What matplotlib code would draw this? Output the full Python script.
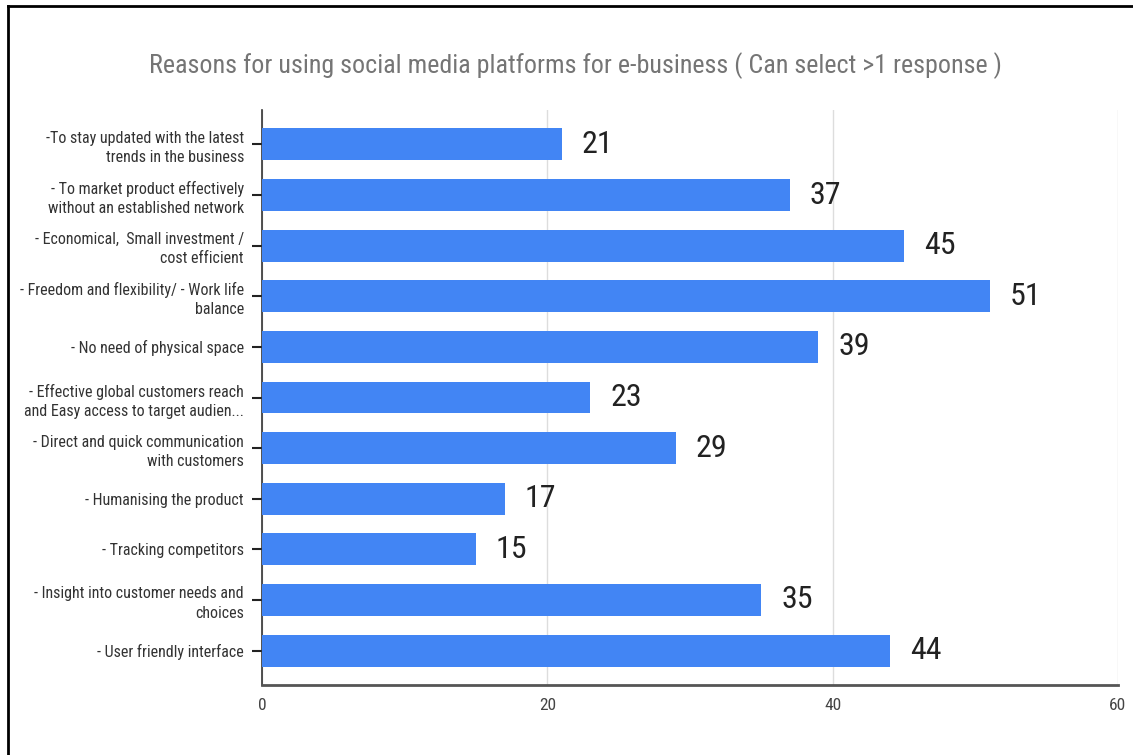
import matplotlib
matplotlib.use("Agg")
import matplotlib.pyplot as plt
from matplotlib import font_manager as fm
from matplotlib.lines import Line2D

reasons = [
    "-To stay updated with the latest\ntrends in the business",
    "- To market product effectively\nwithout an established network",
    "- Economical,  Small investment /\ncost efficient",
    "- Freedom and flexibility/ - Work life\nbalance",
    "- No need of physical space",
    "- Effective global customers reach\nand Easy access to target audien...",
    "- Direct and quick communication\nwith customers",
    "- Humanising the product",
    "- Tracking competitors",
    "- Insight into customer needs and\nchoices",
    "- User friendly interface",
]
counts = [21, 37, 45, 51, 39, 23, 29, 17, 15, 35, 44]
x_ticks = [0, 20, 40, 60]

bar_color = "#4285F4"

# pick a narrow face if one is around, otherwise plain Liberation Sans
names = {f.name for f in fm.fontManager.ttflist}
if "Liberation Sans Narrow" in names:
    narrow = dict(family="Liberation Sans Narrow")
    scale = 1.0
elif "Roboto Condensed" in names:
    narrow = dict(family="Roboto Condensed")
    scale = 1.0
else:
    narrow = dict(family="Liberation Sans")
    scale = 0.8

fig = plt.figure(figsize=(11.33, 7.55), dpi=100)
ax = fig.add_axes([262 / 1133, 1 - 685 / 755, (1118 - 262) / 1133, (685 - 110) / 755])

pos = list(range(len(reasons)))
ax.barh(pos, counts, height=0.63, color=bar_color, zorder=3)
ax.set_ylim(len(reasons) - 1 + 0.68, -0.68)
ax.set_xlim(0, 60)

for p, c in zip(pos, counts):
    ax.text(c + 1.4, p, str(c), va="center", ha="left", fontsize=23 * scale,
            color="#222222", **narrow)

ax.set_yticks(pos)
ax.set_yticklabels(reasons, fontsize=11.5 * scale, color="#333333",
                   linespacing=1.35, **narrow)
ax.set_xticks(x_ticks)
ax.set_xticklabels([str(t) for t in x_ticks], fontsize=12.5 * scale,
                   color="#444444", **narrow)
ax.tick_params(axis="y", length=7, width=1.5, color="#222222", pad=6)
ax.tick_params(axis="x", length=0, pad=9)

ax.grid(axis="x", color="#dddddd", linewidth=1, zorder=0)
for side in ["top", "right"]:
    ax.spines[side].set_visible(False)
ax.spines["left"].set_color("#333333")
ax.spines["left"].set_linewidth(1.2)
ax.spines["bottom"].set_color("#555555")
ax.spines["bottom"].set_linewidth(2)

title_font = narrow if scale == 1.0 else dict(family="Liberation Sans")
fig.text(575 / 1133, 1 - 66 / 755,
         "Reasons for using social media platforms for e-business ( Can select >1 response )",
         ha="center", va="center", fontsize=18.7 if scale == 1.0 else 16.5,
         color="#757575", **title_font)

# frame along the left and top edges
fig.add_artist(Line2D([8 / 1133, 8 / 1133], [0, 1 - 6 / 755], transform=fig.transFigure,
                      color="black", linewidth=2))
fig.add_artist(Line2D([8 / 1133, 1], [1 - 6 / 755, 1 - 6 / 755], transform=fig.transFigure,
                      color="black", linewidth=2))

fig.savefig("out.png", dpi=100)
